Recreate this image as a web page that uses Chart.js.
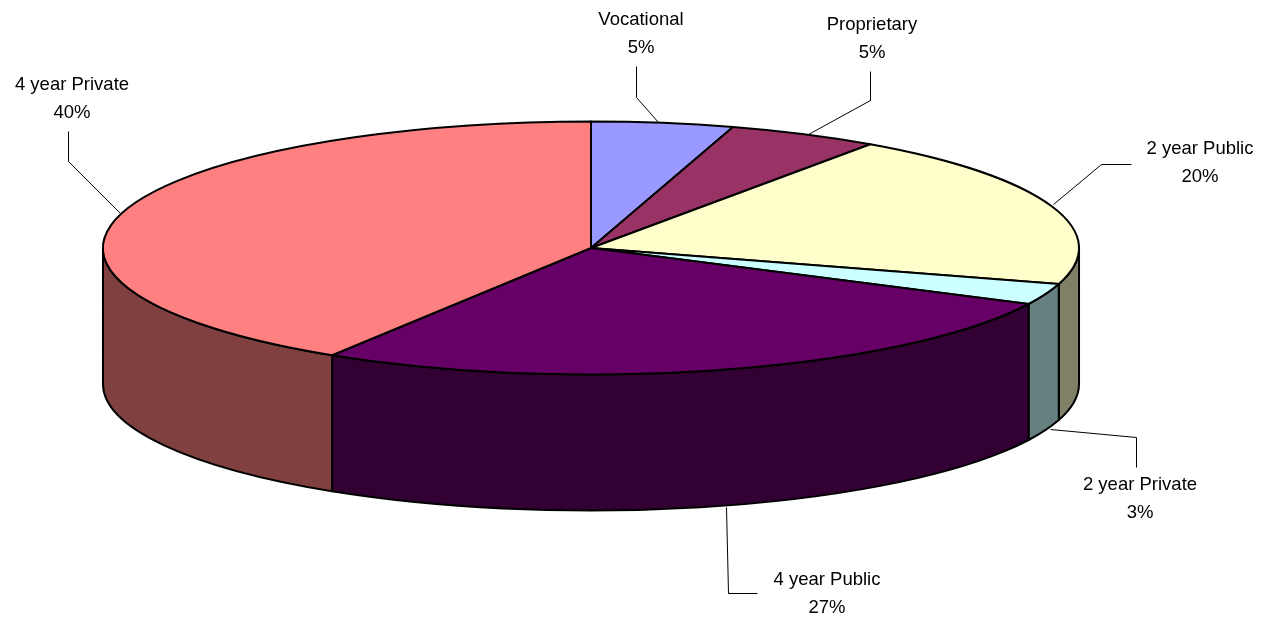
<!DOCTYPE html>
<html>
<head>
<meta charset="utf-8">
<title>Enrollment by school type</title>
<script src="https://cdn.jsdelivr.net/npm/chart.js@4"></script>
<style>
    html, body { margin: 0; padding: 0; background: #fff; }
    canvas { display: block; }
</style>
</head>
<body>
<canvas id="myChart" width="1282" height="619"></canvas>
<script>
// Chart data, slice sizes, printed labels as shown
const categories = ['Vocational', 'Proprietary', '2 year Public', '2 year Private', '4 year Public', '4 year Private'];
const sliceValues = [4.7, 5.0, 19.9, 2.7, 26.6, 41.1];
const percentLabels = ['5%', '5%', '20%', '3%', '27%', '40%'];
const topColors = ['#9999ff', '#993366', '#ffffcc', '#ccffff', '#660066', '#ff8080'];
const wallColors = ['#4c4c80', '#4c1933', '#808066', '#668080', '#330033', '#804040'];

// 3D look: the round pie gets stretched to an ellipse with a wall below it
const stretchX = 490 / 248;
const stretchY = 127 / 248;
const wallDepth = 136;

// where each label and its leader line go, same order as categories
const labelPlace = [
    { x: 641, y: 20, line: [[636, 66], [636, 97], [658, 122]] },
    { x: 872, y: 25, line: [[870, 71], [870, 100], [808, 134]] },
    { x: 1200, y: 149, line: [[1131, 164], [1101, 164], [1053, 204]] },
    { x: 1140, y: 485, line: [[1136, 467], [1136, 437], [1050, 429]] },
    { x: 827, y: 580, line: [[726, 507], [728, 593], [757, 593]] },
    { x: 72, y: 85, line: [[68, 131], [68, 161], [120, 213]] }
];

const pie3d = {
    id: 'pie3d',
    beforeDatasetDraw(chart, args) {
        const ctx = chart.ctx;
        const arcs = args.meta.data;
        ctx.save();
        ctx.strokeStyle = '#000';
        ctx.lineWidth = 2;
        ctx.lineJoin = 'round';

        // walls, only the front half of the pie can be seen
        arcs.forEach((arc, i) => {
            const from = Math.max(arc.startAngle, 0);
            const to = Math.min(arc.endAngle, Math.PI);
            if (to <= from) return;
            const rx = arc.outerRadius * stretchX;
            const ry = arc.outerRadius * stretchY;
            ctx.beginPath();
            ctx.ellipse(arc.x, arc.y, rx, ry, 0, from, to);
            ctx.ellipse(arc.x, arc.y + wallDepth, rx, ry, 0, to, from, true);
            ctx.closePath();
            ctx.fillStyle = wallColors[i];
            ctx.fill();
            ctx.stroke();
        });

        // top face
        arcs.forEach((arc, i) => {
            ctx.beginPath();
            ctx.moveTo(arc.x, arc.y);
            ctx.ellipse(arc.x, arc.y, arc.outerRadius * stretchX, arc.outerRadius * stretchY, 0, arc.startAngle, arc.endAngle);
            ctx.closePath();
            ctx.fillStyle = topColors[i];
            ctx.fill();
            ctx.stroke();
        });
        ctx.restore();
        return false; // skip the flat default arcs
    },
    afterDraw(chart) {
        const ctx = chart.ctx;
        ctx.save();
        ctx.strokeStyle = '#000';
        ctx.lineWidth = 1;
        ctx.fillStyle = '#000';
        ctx.font = '18.5px "Liberation Sans", Arial, sans-serif';
        ctx.textAlign = 'center';
        ctx.textBaseline = 'middle';
        labelPlace.forEach((p, i) => {
            ctx.beginPath();
            p.line.forEach((pt, k) => {
                if (k === 0) ctx.moveTo(pt[0] + 0.5, pt[1] + 0.5);
                else ctx.lineTo(pt[0] + 0.5, pt[1] + 0.5);
            });
            ctx.stroke();
            ctx.fillText(categories[i], p.x, p.y);
            ctx.fillText(percentLabels[i], p.x, p.y + 28);
        });
        ctx.restore();
    }
};

const myChart = new Chart(document.getElementById('myChart'), {
    type: 'pie',
    data: {
        labels: categories,
        datasets: [{
            data: sliceValues,
            backgroundColor: topColors,
            borderColor: '#000',
            borderWidth: 2
        }]
    },
    options: {
        responsive: false,
        animation: false,
        events: [],
        layout: { padding: { right: 100, bottom: 123 } },
        plugins: {
            legend: { display: false },
            tooltip: { enabled: false }
        }
    },
    plugins: [pie3d]
});
</script>
</body>
</html>
